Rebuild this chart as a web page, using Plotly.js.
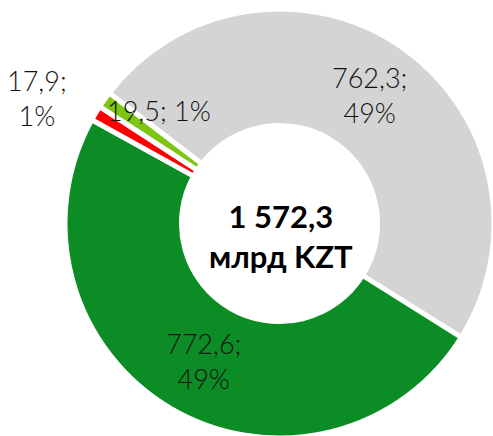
<!DOCTYPE html>
<html>
<head>
<meta charset="utf-8">
<script src="https://cdn.plot.ly/plotly-3.0.1.min.js"></script>
<style>
html,body{margin:0;padding:0;overflow:hidden;background:#fff;width:493px;height:436px;}
#chart{width:500px;height:445px;}
</style>
</head>
<body>
<div id="chart"></div>
<script>
// ---- data ----
const categories = ['Серая часть', 'Зелёная часть', 'Красная часть', 'Салатовая часть'];
const values = [762.3, 772.6, 17.9, 19.5];
const percentLabels = ['49%', '49%', '1%', '1%'];
const colors = ['#d4d4d4', '#0c8c25', '#ff0000', '#7cc512'];
const unitLabel = 'млрд KZT';

function fmt(v) {
  const parts = v.toFixed(1).split('.');
  const intPart = parts[0].replace(/\B(?=(\d{3})+(?!\d))/g, ' ');
  return intPart + ',' + parts[1];
}
const total = values.reduce((a, b) => a + b, 0);

// ---- layout geometry (pixels) ----
const W = 500, H = 445, ML = 65, MT = 9, PW = 429, PH = 429;
function px(x) { return (x - ML) / PW; }
function py(y) { return 1 - (y - MT) / PH; }

const labelFont = {family: 'Lato, "Open Sans", sans-serif', size: 27, color: '#111111', weight: 300};

// label placements per slice: [x, y, multiline]
const labelPos = [[369, 95, true], [203, 361, true], [37, 98, true], [159, 111, false]];

const annotations = values.map((v, i) => ({
  xref: 'paper', yref: 'paper',
  x: px(labelPos[i][0]), y: py(labelPos[i][1]),
  xanchor: 'center', yanchor: 'middle',
  showarrow: false,
  text: fmt(v) + ';' + (labelPos[i][2] ? '<br>' : ' ') + percentLabels[i],
  font: labelFont
}));

annotations.push({
  xref: 'paper', yref: 'paper',
  x: px(281), y: py(236),
  xanchor: 'center', yanchor: 'middle',
  showarrow: false,
  text: '<b>' + fmt(total) + '<br>' + unitLabel + '</b>',
  font: {family: 'Lato, "Open Sans", sans-serif', size: 31, color: '#000000'}
});

const trace = {
  type: 'pie',
  labels: categories,
  values: values,
  hole: 0.457,
  sort: false,
  direction: 'clockwise',
  rotation: -52.5,
  textinfo: 'none',
  hoverinfo: 'label+value+percent',
  marker: {colors: colors, line: {color: '#ffffff', width: 5}},
  showlegend: false
};

const layout = {
  width: W, height: H,
  margin: {l: ML, r: W - ML - PW, t: MT, b: H - MT - PH, pad: 0},
  paper_bgcolor: '#ffffff',
  plot_bgcolor: '#ffffff',
  showlegend: false,
  annotations: annotations
};

Plotly.newPlot('chart', [trace], layout, {displayModeBar: false, staticPlot: true});
</script>
</body>
</html>
